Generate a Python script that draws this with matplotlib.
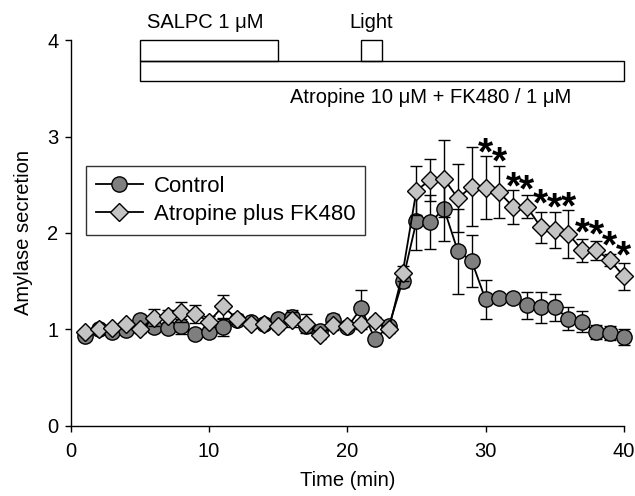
import numpy as np
import matplotlib.pyplot as plt
from matplotlib.patches import Rectangle
from matplotlib import transforms

plt.rcParams['font.family'] = ['Liberation Sans', 'DejaVu Sans']
plt.rcParams['font.size'] = 14.5

# data
time = np.arange(1, 41)

control = [0.93, 1.00, 0.97, 0.99, 1.10, 1.02, 1.01, 1.03, 0.95, 0.975,
           1.02, 1.10, 1.08, 1.06, 1.11, 1.13, 1.03, 0.98, 1.10, 1.02,
           1.22, 0.90, 1.03, 1.50, 2.12, 2.11, 2.25, 1.81, 1.71, 1.31,
           1.32, 1.33, 1.25, 1.23, 1.23, 1.11, 1.08, 0.97, 0.96, 0.92]
control_err = [0.03, 0.03, 0.04, 0.03, 0.05, 0.05, 0.04, 0.08, 0.05, 0.04,
               0.09, 0.04, 0.04, 0.04, 0.05, 0.07, 0.05, 0.04, 0.06, 0.04,
               0.19, 0.05, 0.05, 0.06, 0.30, 0.28, 0.33, 0.44, 0.27, 0.20,
               0.05, 0.05, 0.14, 0.16, 0.14, 0.12, 0.11, 0.07, 0.07, 0.08]

atropine = [0.97, 1.00, 1.01, 1.05, 1.00, 1.12, 1.14, 1.18, 1.16, 1.08,
            1.24, 1.11, 1.06, 1.05, 1.03, 1.10, 1.06, 0.94, 1.04, 1.03,
            1.05, 1.085, 1.00, 1.58, 2.44, 2.55, 2.56, 2.36, 2.48, 2.47,
            2.42, 2.27, 2.27, 2.06, 2.03, 1.99, 1.82, 1.82, 1.72, 1.55]
atropine_err = [0.03, 0.03, 0.03, 0.04, 0.04, 0.09, 0.06, 0.10, 0.09, 0.06,
                0.12, 0.05, 0.04, 0.03, 0.04, 0.08, 0.10, 0.04, 0.05, 0.04,
                0.05, 0.04, 0.04, 0.08, 0.25, 0.22, 0.40, 0.35, 0.41, 0.33,
                0.27, 0.18, 0.12, 0.16, 0.19, 0.25, 0.12, 0.10, 0.06, 0.14]

# significance stars
star_x = [30, 31, 32, 33, 34, 35, 36, 37, 38, 39, 40]
star_y = [2.89, 2.80, 2.54, 2.51, 2.36, 2.32, 2.33, 2.06, 2.04, 1.93, 1.82]

fig = plt.figure(figsize=(6.35, 4.96), dpi=100)
ax = fig.add_axes([0.1117, 0.1417, 0.8705, 0.7774])

eb1 = ax.errorbar(time, control, yerr=control_err, fmt='-o', color='black',
                  mfc='#7f7f7f', mec='black', mew=1.0, ms=11, lw=1.3,
                  elinewidth=1.0, capsize=4, capthick=1.0, zorder=3)
eb2 = ax.errorbar(time, atropine, yerr=atropine_err, fmt='-D', color='black',
                  mfc='#c4c4c4', mec='black', mew=1.0, ms=9.3, lw=1.3,
                  elinewidth=1.0, capsize=4, capthick=1.0, zorder=4)
for eb in (eb1, eb2):
    eb.lines[0].set_clip_on(False)
    for art in eb.lines[1]:
        art.set_clip_on(False)
    for art in eb.lines[2]:
        art.set_clip_on(False)

star_off = transforms.offset_copy(ax.transData, fig=fig, x=0, y=-12.5, units='points')
for sx, sy in zip(star_x, star_y):
    ax.text(sx, sy, '*', fontsize=28, fontweight='bold', ha='center',
            va='baseline', transform=star_off, clip_on=False)

# treatment bars on top
ax.add_patch(Rectangle((5, 3.58), 35, 0.20, fill=False, ec='black', lw=1.0, clip_on=False))
ax.add_patch(Rectangle((5, 3.78), 10, 0.22, fill=False, ec='black', lw=1.0, clip_on=False))
ax.add_patch(Rectangle((21, 3.78), 1.5, 0.22, fill=False, ec='black', lw=1.0, clip_on=False))
ax.text(5.5, 4.08, 'SALPC 1 μM', ha='left', va='bottom', clip_on=False)
ax.text(21.75, 4.08, 'Light', ha='center', va='bottom', clip_on=False)
ax.text(26.0, 3.40, 'Atropine 10 μM + FK480 / 1 μM', ha='center', va='center')

ax.set_xlim(0, 40)
ax.set_ylim(0, 4)
ax.set_xticks([0, 10, 20, 30, 40])
ax.set_yticks([0, 1, 2, 3, 4])
ax.spines['top'].set_visible(False)
ax.spines['right'].set_visible(False)
ax.spines['left'].set_linewidth(1.0)
ax.spines['bottom'].set_linewidth(1.0)
ax.tick_params(direction='out', length=4, width=1.0, labelsize=14.5)
ax.tick_params(axis='x', pad=8)
ax.tick_params(axis='y', pad=5)
ax.set_xlabel('Time (min)', labelpad=7)
ax.set_ylabel('Amylase secretion', labelpad=10)

h1, = ax.plot([], [], '-o', color='black', mfc='#7f7f7f', mec='black',
              mew=1.0, ms=11, lw=1.3)
h2, = ax.plot([], [], '-D', color='black', mfc='#c4c4c4', mec='black',
              mew=1.0, ms=9.3, lw=1.3)
leg = ax.legend([h1, h2], ['Control', 'Atropine plus FK480'], loc='upper left',
                bbox_to_anchor=(0.027, 0.673), frameon=True, fancybox=False,
                edgecolor='black', handlelength=2.1, handletextpad=0.5,
                borderaxespad=0, labelspacing=0.3, borderpad=0.45,
                fontsize=16)
leg.get_frame().set_linewidth(1.0)

fig.savefig('out.png', dpi=100)
